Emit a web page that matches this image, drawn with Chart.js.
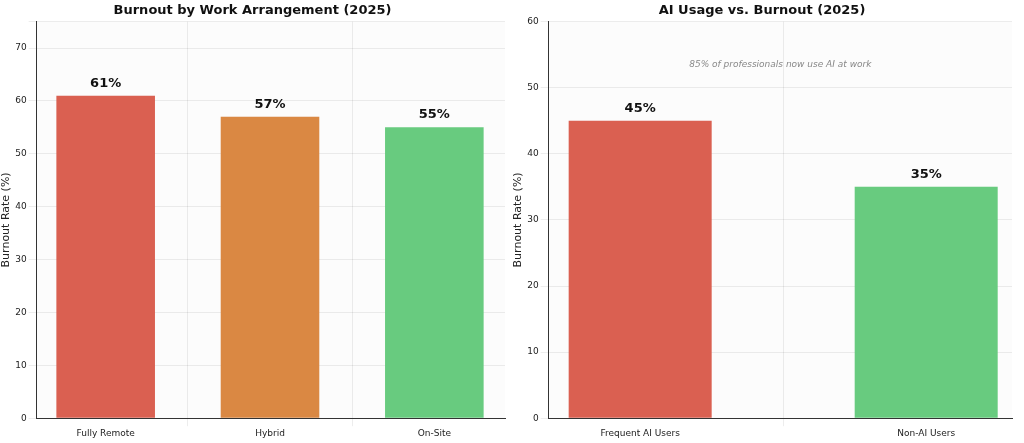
<!DOCTYPE html>
<html lang="en">
<head>
<meta charset="UTF-8">
<title>Burnout charts</title>
<script src="https://cdn.jsdelivr.net/npm/chart.js"></script>
<style>
  body { margin: 0; background: #fff; font-family: 'DejaVu Sans', sans-serif; }
  .wrap { position: absolute; top: 0; height: 443px; }
  #w1 { left: 0; width: 512px; }
  #w2 { left: 512px; width: 512px; }
</style>
</head>
<body>
<div class="wrap" id="w1"><canvas id="c1"></canvas></div>
<div class="wrap" id="w2"><canvas id="c2"></canvas></div>
<script>
const arrangements = ['Fully Remote', 'Hybrid', 'On-Site'];
const arrangementBurnout = [61, 57, 55];
const arrangementColors = ['#d9594a', '#d9833b', '#62c97a'];

const aiGroups = ['Frequent AI Users', 'Non-AI Users'];
const aiBurnout = [45, 35];
const aiColors = ['#d9594a', '#62c97a'];
const aiNote = '85% of professionals now use AI at work';

// value labels on top of bars + optional note
const barLabels = {
  id: 'barLabels',
  afterDatasetsDraw(chart, args, opts) {
    const ctx = chart.ctx;
    const meta = chart.getDatasetMeta(0);
    ctx.save();
    ctx.font = 'bold 13px "DejaVu Sans"';
    ctx.fillStyle = '#111';
    ctx.textAlign = 'center';
    ctx.textBaseline = 'bottom';
    meta.data.forEach((bar, i) => {
      ctx.fillText(chart.data.datasets[0].data[i].y + '%', bar.x, bar.y - 6);
    });
    if (opts.note) {
      const a = chart.chartArea;
      ctx.font = 'italic 9px "DejaVu Sans"';
      ctx.fillStyle = '#888';
      ctx.textBaseline = 'middle';
      ctx.fillText(opts.note, (a.left + a.right) / 2, chart.scales.y.getPixelForValue(opts.noteY));
    }
    ctx.restore();
  },
  beforeDraw(chart) {
    const a = chart.chartArea;
    chart.ctx.save();
    chart.ctx.fillStyle = '#fcfcfc';
    chart.ctx.fillRect(a.left, a.top, a.right - a.left, a.bottom - a.top);
    chart.ctx.restore();
  }
};

function makeChart(id, title, labels, values, colors, yMax, note, xMin, xMax, barPct, pad) {
  const points = values.map((v, i) => ({ x: i, y: v }));
  return new Chart(document.getElementById(id), {
    type: 'bar',
    data: { datasets: [{ data: points, backgroundColor: colors.map(c => c + 'f5'), categoryPercentage: 1, barPercentage: barPct }] },
    plugins: [barLabels],
    options: {
      responsive: true, maintainAspectRatio: false, animation: false,
      layout: { padding: pad },
      plugins: {
        legend: { display: false }, tooltip: { enabled: false },
        title: { display: true, text: title, font: { family: 'DejaVu Sans', size: 13, weight: 'bold' }, color: '#111', padding: { top: 3, bottom: 3 } },
        barLabels: note ? { note: note, noteY: 53.5 } : {}
      },
      scales: {
        x: {
          type: 'linear', min: xMin, max: xMax, offset: false,
          afterBuildTicks: s => { s.ticks = labels.map((l, i) => ({ value: i })); },
          grid: { color: 'rgba(0,0,0,0.07)' },
          border: { color: '#333' },
          ticks: { padding: 2, color: '#222', font: { family: 'DejaVu Sans', size: 9 }, callback: v => labels[v] }
        },
        y: {
          min: 0, max: yMax,
          grid: { color: 'rgba(0,0,0,0.07)' },
          border: { color: '#333' },
          title: { display: true, text: 'Burnout Rate (%)', color: '#222', font: { family: 'DejaVu Sans', size: 11 }, padding: 0 },
          ticks: { padding: 2, stepSize: 10, color: '#222', font: { family: 'DejaVu Sans', size: 9 }, callback: v => (v % 10 === 0 ? v : '') }
        }
      }
    }
  });
}

makeChart('c1', 'Burnout by Work Arrangement (2025)', arrangements, arrangementBurnout, arrangementColors, 75, null, -0.42, 2.43, 0.6, { left: 0, right: 7, top: 0, bottom: 2 });
makeChart('c2', 'AI Usage vs. Burnout (2025)', aiGroups, aiBurnout, aiColors, 60, aiNote, -0.32, 1.3, 0.5, { left: 0, right: 12, top: 0, bottom: 2 });
</script>
</body>
</html>
